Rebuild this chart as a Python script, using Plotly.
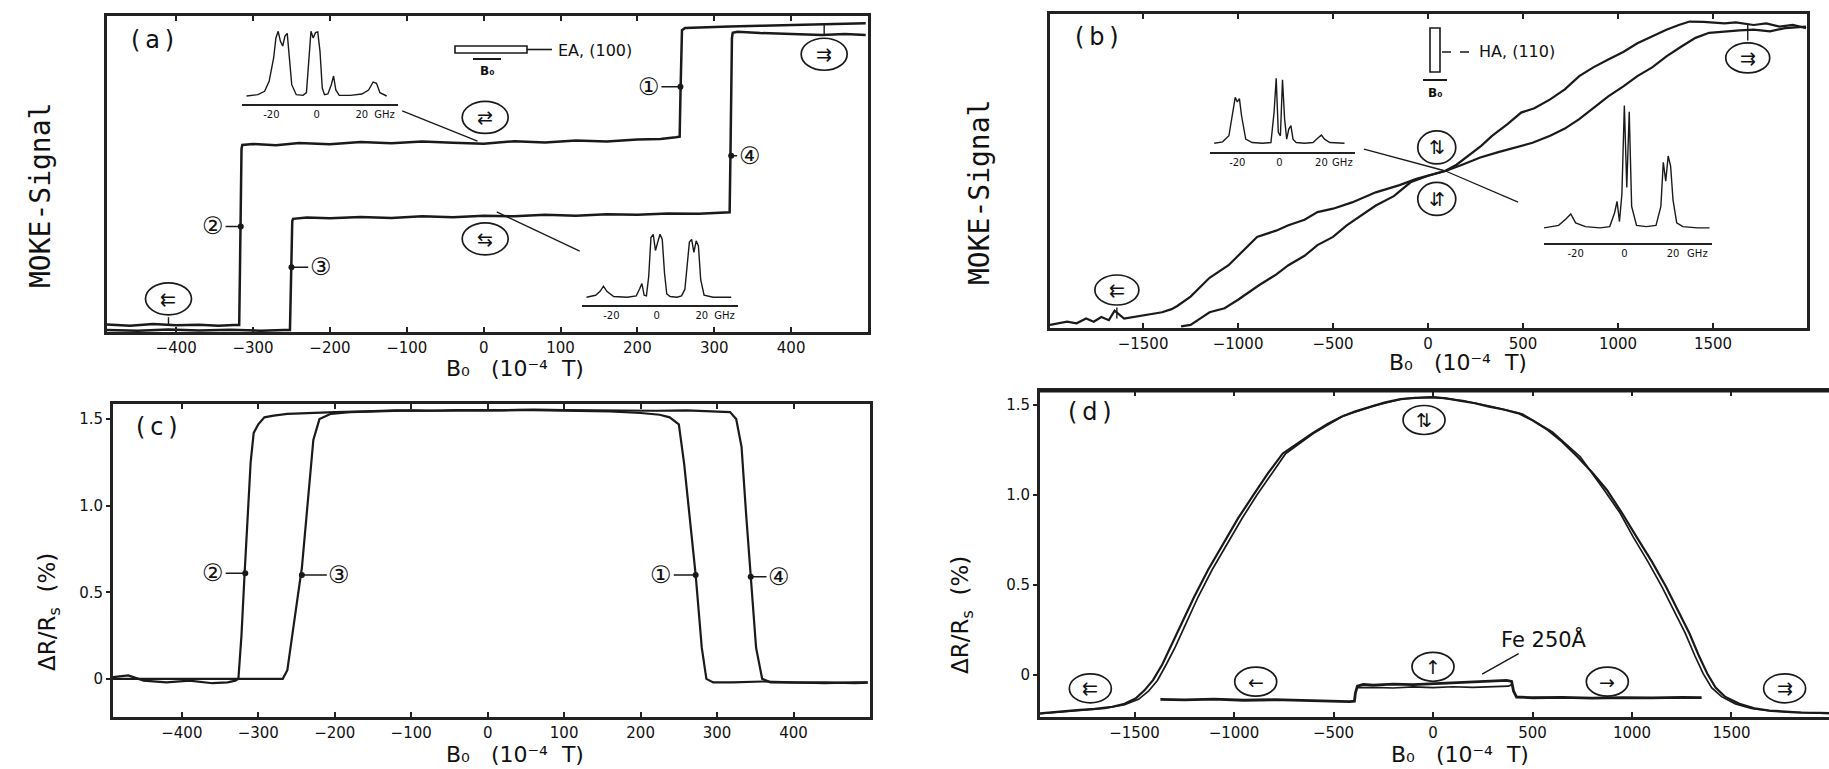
import plotly.graph_objects as go

W, H = 1829, 769

INK = "#1a1a1a"
FRAME = "#222222"
FONT = "DejaVu Sans, Noto Sans CJK JP, sans-serif"
MONO = "DejaVu Sans Mono, monospace"


def px_x(p):
    return p / W


def px_y(p):
    return 1 - p / H


# ---------------- (a) MOKE loop, field along the easy axis ----------------
a_branch1_field = [-490, -460, -430, -400, -370, -345, -325, -318, -317, -316,
                   -315, -314, -300, -270, -240, -200, -160, -120, -80, -40,
                   0, 40, 80, 120, 160, 200, 230, 250, 255, 256,
                   257, 258, 262, 280, 320, 360, 400, 440, 480, 497]
a_branch1_signal = [0.024, 0.02, 0.025, 0.021, 0.023, 0.02, 0.022, 0.022, 0.2, 0.45,
                    0.58, 0.592, 0.595, 0.591, 0.598, 0.594, 0.601, 0.597, 0.603, 0.599,
                    0.596, 0.604, 0.6, 0.606, 0.603, 0.609, 0.611, 0.616, 0.618, 0.75,
                    0.9, 0.955, 0.962, 0.964, 0.967, 0.969, 0.972, 0.973, 0.976, 0.977]
a_branch2_field = [-490, -450, -410, -370, -330, -290, -260, -252, -251, -250,
                   -249, -248, -230, -200, -160, -120, -80, -40, 0, 40,
                   80, 120, 160, 200, 240, 280, 310, 320, 321, 322,
                   323, 324, 330, 360, 400, 440, 470, 497]
a_branch2_signal = [0.006, 0.004, 0.008, 0.005, 0.007, 0.004, 0.006, 0.006, 0.12, 0.28,
                    0.35, 0.358, 0.362, 0.36, 0.364, 0.361, 0.366, 0.363, 0.368, 0.366,
                    0.371, 0.368, 0.373, 0.371, 0.375, 0.374, 0.377, 0.379, 0.55, 0.8,
                    0.93, 0.947, 0.95, 0.946, 0.944, 0.94, 0.943, 0.94]

# ---------------- (b) MOKE loop, field along the hard axis ----------------
b_branch1_field = [-1990, -1900, -1850, -1800, -1760, -1720, -1680, -1650, -1600, -1550,
                   -1500, -1450, -1400, -1350, -1320, -1250, -1150, -1050, -1000, -900,
                   -800, -735, -650, -582, -500, -400, -275, -150, -61, 0,
                   92, 150, 214, 280, 337, 420, 490, 560, 643, 720,
                   796, 870, 949, 1030, 1102, 1180, 1255, 1320, 1377, 1450,
                   1500, 1561, 1620, 1714, 1780, 1850, 1920, 1990]
b_branch1_signal = [0.01, 0.02, 0.015, 0.03, 0.02, 0.035, 0.025, 0.055, 0.03, 0.035,
                    0.04, 0.045, 0.05, 0.06, 0.07, 0.1, 0.16, 0.2, 0.23, 0.29,
                    0.31, 0.327, 0.345, 0.369, 0.38, 0.4, 0.432, 0.455, 0.475, 0.485,
                    0.501, 0.52, 0.549, 0.58, 0.612, 0.65, 0.686, 0.7, 0.728, 0.76,
                    0.802, 0.83, 0.855, 0.88, 0.907, 0.93, 0.95, 0.965, 0.976, 0.975,
                    0.972, 0.97, 0.973, 0.965, 0.97, 0.96, 0.965, 0.955]
b_branch2_field = [-1300, -1250, -1200, -1150, -1071, -1000, -888, -800, -735, -650,
                   -582, -500, -428, -350, -275, -180, -92, 0, 92, 180,
                   275, 370, 459, 550, 643, 720, 796, 870, 949, 1030,
                   1102, 1180, 1255, 1330, 1408, 1480, 1561, 1640, 1714, 1800,
                   1880, 1959, 1990]
b_branch2_signal = [0.005, 0.01, 0.03, 0.05, 0.063, 0.09, 0.137, 0.17, 0.2, 0.23,
                    0.264, 0.29, 0.327, 0.36, 0.39, 0.42, 0.464, 0.485, 0.5, 0.52,
                    0.543, 0.56, 0.575, 0.59, 0.612, 0.635, 0.665, 0.7, 0.738, 0.77,
                    0.802, 0.83, 0.865, 0.895, 0.924, 0.94, 0.945, 0.948, 0.95, 0.945,
                    0.955, 0.96, 0.96]

# ---------------- (c) magnetoresistance, easy axis ----------------
c_branch1_field = [-490, -470, -450, -420, -390, -360, -340, -330, -326, -322,
                   -318, -314, -310, -306, -300, -292, -280, -262, -240, -200,
                   -160, -120, -80, -40, 0, 40, 80, 120, 160, 200,
                   225, 238, 250, 257, 265, 272, 280, 286, 295, 320,
                   360, 400, 440, 480, 497]
c_branch1_mr = [0.01, 0.02, -0.01, -0.02, -0.01, -0.025, -0.02, -0.01, 0.0, 0.25,
                0.6, 0.95, 1.25, 1.42, 1.47, 1.51, 1.52, 1.53, 1.535, 1.54,
                1.545, 1.55, 1.548, 1.552, 1.55, 1.553, 1.55, 1.548, 1.545, 1.535,
                1.525, 1.51, 1.47, 1.24, 0.91, 0.6, 0.18, 0.0, -0.02, -0.02,
                -0.015, -0.02, -0.025, -0.02, -0.02]
c_branch2_field = [-490, -440, -390, -340, -300, -268, -262, -258, -254, -250,
                   -246, -243, -239, -235, -228, -220, -205, -180, -140, -100,
                   -60, -20, 20, 60, 100, 140, 180, 220, 260, 300,
                   317, 325, 332, 338, 344, 351, 359, 370, 400, 440,
                   480, 497]
c_branch2_mr = [0.0, 0.0, 0.0, 0.0, 0.0, 0.0, 0.05, 0.18, 0.32, 0.45,
                0.55, 0.64, 0.85, 1.05, 1.38, 1.5, 1.53, 1.54, 1.545, 1.55,
                1.548, 1.552, 1.55, 1.555, 1.552, 1.55, 1.552, 1.548, 1.55, 1.545,
                1.54, 1.5, 1.34, 0.95, 0.59, 0.18, 0.0, -0.02, -0.022, -0.02,
                -0.025, -0.022]

# ---------------- (d) magnetoresistance, hard axis, plus single Fe film ----------------
d_sweep1_field = [-1975, -1900, -1790, -1700, -1612, -1550, -1495, -1450, -1407, -1360,
                  -1318, -1260, -1200, -1130, -1052, -980, -903, -830, -755, -680,
                  -607, -530, -460, -390, -311, -240, -163, -90, -15, 60,
                  133, 210, 281, 355, 430, 500, 578, 650, 726, 800,
                  874, 950, 1022, 1100, 1171, 1230, 1289, 1335, 1378, 1420,
                  1467, 1540, 1615, 1690, 1764, 1850, 1941, 1990]
d_sweep1_mr = [-0.213, -0.205, -0.195, -0.188, -0.176, -0.16, -0.13, -0.085, -0.028, 0.06,
               0.157, 0.29, 0.435, 0.585, 0.731, 0.87, 1.0, 1.12, 1.231, 1.29,
               1.343, 1.395, 1.435, 1.465, 1.491, 1.515, 1.533, 1.54, 1.543, 1.538,
               1.524, 1.51, 1.491, 1.475, 1.454, 1.415, 1.361, 1.295, 1.213, 1.125,
               1.028, 0.9, 0.769, 0.63, 0.491, 0.36, 0.231, 0.11, 0.009, -0.07,
               -0.12, -0.16, -0.185, -0.197, -0.204, -0.208, -0.21, -0.212]
d_sweep2_field = [-1975, -1800, -1650, -1550, -1480, -1430, -1385, -1340, -1295, -1240,
                  -1180, -1110, -1035, -960, -885, -740, -600, -450, -300, -150,
                  0, 150, 300, 450, 600, 740, 860, 940, 1005, 1080,
                  1150, 1210, 1268, 1315, 1357, 1400, 1450, 1520, 1600, 1700,
                  1800, 1990]
d_sweep2_mr = [-0.215, -0.2, -0.185, -0.165, -0.135, -0.09, -0.03, 0.06, 0.157, 0.29,
               0.435, 0.585, 0.731, 0.87, 1.0, 1.231, 1.343, 1.44, 1.495, 1.535,
               1.545, 1.525, 1.49, 1.45, 1.35, 1.213, 1.028, 0.9, 0.769, 0.63,
               0.491, 0.36, 0.231, 0.11, 0.009, -0.07, -0.12, -0.16, -0.185, -0.2,
               -0.207, -0.213]
fe_sweep1_field = [-1370, -1250, -1100, -950, -800, -650, -500, -420, -395, -390,
                   -380, -350, -300, -200, -100, 0, 100, 200, 300, 370,
                   395, 405, 420, 500, 650, 800, 950, 1100, 1250, 1350]
fe_sweep1_mr = [-0.135, -0.138, -0.134, -0.14, -0.137, -0.142, -0.144, -0.148, -0.145, -0.1,
                -0.062, -0.052, -0.056, -0.05, -0.053, -0.048, -0.046, -0.042, -0.036, -0.03,
                -0.035, -0.09, -0.122, -0.126, -0.124, -0.128, -0.125, -0.127, -0.124, -0.125]
fe_sweep2_field = [-380, -300, -200, -100, 0, 100, 200, 300, 380, 400]
fe_sweep2_mr = [-0.07, -0.068, -0.072, -0.066, -0.07, -0.065, -0.068, -0.064, -0.062, -0.05]

# ---------------- light-scattering spectra (insets) ----------------
spec_a1_freq = [-31, -26, -23, -21, -19, -18, -17, -16, -15, -14,
                -13, -12, -11, -9, -6, -4.5, -3.5, -2.5, -1.5, -0.5,
                0.5, 1.5, 2.5, 3.5, 5, 6.5, 7.5, 8.5, 10, 15,
                20, 23, 25, 26.5, 28, 31]
spec_a1_int = [0.03, 0.05, 0.1, 0.25, 0.6, 0.9, 1.0, 0.85, 0.78, 0.93,
               0.97, 0.6, 0.2, 0.05, 0.04, 0.08, 0.6, 1.0, 0.9, 0.98,
               0.99, 0.7, 0.15, 0.05, 0.06, 0.2, 0.33, 0.12, 0.04, 0.04,
               0.06, 0.12, 0.24, 0.22, 0.08, 0.03]
spec_a2_freq = [-31, -27, -25, -23.5, -22, -19, -13, -9, -7.5, -6.5,
                -5.5, -4.5, -3.5, -2.5, -1.5, -0.5, 0.5, 1.5, 2.5, 3.5,
                4.5, 6, 9, 11, 12.5, 13.5, 14.5, 15.5, 16.5, 17.5,
                18.5, 19.5, 21, 25, 33]
spec_a2_int = [0.03, 0.06, 0.12, 0.2, 0.12, 0.04, 0.03, 0.05, 0.16, 0.24,
               0.06, 0.05, 0.35, 0.95, 1.0, 0.75, 0.88, 1.0, 0.92, 0.4,
               0.08, 0.04, 0.03, 0.05, 0.15, 0.5, 0.88, 0.92, 0.72, 0.9,
               0.82, 0.3, 0.06, 0.03, 0.03]
spec_b1_freq = [-31, -27, -24, -22, -21, -20, -19, -18, -16, -13,
                -8, -4, -2.5, -1.5, -0.5, 0.5, 1.5, 2.5, 3.5, 4.5,
                5.5, 6.5, 8, 12, 16, 18.5, 20, 21.5, 24, 31]
spec_b1_int = [0.04, 0.06, 0.15, 0.5, 0.72, 0.65, 0.7, 0.45, 0.1, 0.05,
               0.04, 0.05, 0.5, 1.0, 0.2, 0.15, 0.98, 0.4, 0.1, 0.25,
               0.3, 0.1, 0.05, 0.04, 0.05, 0.12, 0.16, 0.1, 0.05, 0.04]
spec_b2_freq = [-33, -27, -24, -22, -20, -16, -10, -6, -4, -3,
                -2, -1, 0, 1, 2, 3, 5, 9, 13, 15,
                16, 17, 18, 19, 20, 21.5, 24, 30, 35]
spec_b2_int = [0.03, 0.05, 0.1, 0.14, 0.07, 0.04, 0.03, 0.04, 0.15, 0.24,
               0.08, 0.3, 1.0, 0.35, 0.95, 0.2, 0.05, 0.04, 0.05, 0.2,
               0.55, 0.4, 0.6, 0.52, 0.25, 0.07, 0.04, 0.03, 0.03]

# tick labels
field_ticks_easy = [-400, -300, -200, -100, 0, 100, 200, 300, 400]
field_ticks_hard = [-1500, -1000, -500, 0, 500, 1000, 1500]
mr_ticks = [0, 0.5, 1.0, 1.5]
mr_tick_text = ["0", "0.5", "1.0", "1.5"]
spec_ticks = [-20, 0, 20, 30]
spec_tick_text = ["-20", "0", "20", "GHz"]

# panel frames in pixel columns/rows: (left, right, top, bottom)
frames = {
    "a": (107, 868, 16, 332),
    "b": (1050, 1807, 14, 328),
    "c": (113, 870, 404, 717),
    "d": (1040, 1829, 391, 717),
}
inset_boxes = {
    "a1": (242, 398, 30, 104),
    "a2": (582, 738, 233, 305),
    "b1": (1210, 1355, 77, 152),
    "b2": (1544, 1712, 103, 243),
}

fig = go.Figure()


def curve(x, y, xa, ya, width=2.5):
    fig.add_trace(go.Scatter(x=x, y=y, mode="lines", xaxis=xa, yaxis=ya,
                             line=dict(color=INK, width=width),
                             showlegend=False, hoverinfo="skip"))


curve(a_branch1_field, a_branch1_signal, "x", "y")
curve(a_branch2_field, a_branch2_signal, "x", "y")
curve(b_branch1_field, b_branch1_signal, "x2", "y2", 2.2)
curve(b_branch2_field, b_branch2_signal, "x2", "y2", 2.2)
curve(c_branch1_field, c_branch1_mr, "x3", "y3", 2.2)
curve(c_branch2_field, c_branch2_mr, "x3", "y3", 2.2)
curve(d_sweep1_field, d_sweep1_mr, "x4", "y4", 2.2)
curve(d_sweep2_field, d_sweep2_mr, "x4", "y4", 1.7)
curve(fe_sweep1_field, fe_sweep1_mr, "x4", "y4", 2.8)
curve(fe_sweep2_field, fe_sweep2_mr, "x4", "y4", 1.7)
curve(spec_a1_freq, spec_a1_int, "x5", "y5", 1.4)
curve(spec_a2_freq, spec_a2_int, "x6", "y6", 1.4)
curve(spec_b1_freq, spec_b1_int, "x7", "y7", 1.4)
curve(spec_b2_freq, spec_b2_int, "x8", "y8", 1.4)

tickfont = dict(family=FONT, size=15, color="#111")


def x_axis(key, rng, tickvals, anchor, mirror="ticks"):
    l, r, t, b = frames[key]
    return dict(domain=[px_x(l), px_x(r)], range=rng, anchor=anchor,
                tickvals=tickvals, ticks="inside", ticklen=5, tickwidth=1.5,
                tickcolor=FRAME, showline=True, linecolor=FRAME, linewidth=2.8,
                mirror=mirror, showgrid=False, zeroline=False, tickfont=tickfont)


def y_axis(key, rng, anchor, tickvals=None, ticktext=None, mirror=True):
    l, r, t, b = frames[key]
    ax = dict(domain=[px_y(b), px_y(t)], range=rng, anchor=anchor,
              showline=True, linecolor=FRAME, linewidth=2.8, mirror=mirror,
              showgrid=False, zeroline=False, tickfont=tickfont)
    if tickvals is None:
        ax.update(showticklabels=False, ticks="")
    else:
        ax.update(tickvals=tickvals, ticktext=ticktext, ticks="outside",
                  ticklen=4, tickwidth=1.5, tickcolor=FRAME)
    return ax


def inset_axes(key, anchor):
    l, r, t, b = inset_boxes[key]
    xa = dict(domain=[px_x(l), px_x(r)], range=[-33, 36], anchor=anchor,
              tickvals=spec_ticks, ticktext=spec_tick_text, ticks="",
              showline=True, linecolor=FRAME, linewidth=1.7, showgrid=False,
              zeroline=False, tickfont=dict(family=FONT, size=10, color="#111"))
    ya = dict(domain=[px_y(b), px_y(t)], range=[-0.09, 1.02], visible=False)
    return xa, ya


layout = dict(
    width=W, height=H, autosize=False,
    margin=dict(l=0, r=0, t=0, b=0),
    paper_bgcolor="white", plot_bgcolor="rgba(0,0,0,0)",
    xaxis=x_axis("a", [-490, 500], field_ticks_easy, "y"),
    yaxis=y_axis("a", [0, 1.0], "x"),
    xaxis2=x_axis("b", [-1990, 1995], field_ticks_hard, "y2"),
    yaxis2=y_axis("b", [0, 1.0], "x2"),
    xaxis3=x_axis("c", [-490, 500], field_ticks_easy, "y3"),
    yaxis3=y_axis("c", [-0.22, 1.587], "x3", mr_ticks, mr_tick_text),
    xaxis4=x_axis("d", [-1975, 1990], field_ticks_hard, "y4"),
    yaxis4=y_axis("d", [-0.233, 1.578], "x4", mr_ticks, mr_tick_text, mirror=False),
)
for n, key in zip([5, 6, 7, 8], ["a1", "a2", "b1", "b2"]):
    xa, ya = inset_axes(key, "y%d" % n)
    layout["xaxis%d" % n] = xa
    layout["yaxis%d" % n] = ya
fig.update_layout(**layout)

annotations = []
shapes = []
CENTER = dict(xanchor="center", yanchor="middle")

# panel letters
panel_letters = [("(a)", "x", "y", 0.06, 0.924), ("(b)", "x2", "y2", 0.062, 0.927),
                 ("(c)", "x3", "y3", 0.058, 0.927), ("(d)", "x4", "y4", 0.063, 0.936)]
for txt, xa, ya, fxd, fyd in panel_letters:
    annotations.append(dict(text=txt.replace("(", "(\u2009").replace(")", "\u2009)"),
                            xref=xa + " domain", yref=ya + " domain", x=fxd, y=fyd,
                            showarrow=False, font=dict(family=FONT, size=24, color="#111"),
                            **CENTER))

# axis titles
field_title = "B₀   (10⁻⁴  T)"
for cx, cy in [(515, 368), (1458, 362), (515, 754), (1460, 754)]:
    annotations.append(dict(text=field_title, xref="paper", yref="paper",
                            x=px_x(cx), y=px_y(cy), showarrow=False,
                            font=dict(family=FONT, size=22, color="#111"), **CENTER))
for cx, cy in [(40, 196), (979, 193)]:
    annotations.append(dict(text="MOKE-Signal", xref="paper", yref="paper",
                            x=px_x(cx), y=px_y(cy), textangle=-90, showarrow=False,
                            font=dict(family=MONO, size=28, color="#111"), **CENTER))
for cx, cy in [(49, 612), (962, 615)]:
    annotations.append(dict(text="ΔR/R<sub>s</sub>  (%)", xref="paper", yref="paper",
                            x=px_x(cx), y=px_y(cy), textangle=-90, showarrow=False,
                            font=dict(family=FONT, size=23, color="#111"), **CENTER))

# numbered branch labels: (axis, point on curve, label position, text)
branch_labels = [
    ("x", "y", 256, 0.776, 215, 0.776, "①"),
    ("x", "y", -316, 0.334, -352, 0.334, "②"),
    ("x", "y", -250, 0.205, -212, 0.205, "③"),
    ("x", "y", 322, 0.558, 346, 0.558, "④"),
    ("x3", "y3", -317, 0.61, -359, 0.61, "②"),
    ("x3", "y3", -243, 0.6, -194, 0.6, "③"),
    ("x3", "y3", 272, 0.6, 227, 0.6, "①"),
    ("x3", "y3", 344, 0.59, 381, 0.59, "④"),
]
dot_x = {"x": [], "x3": []}
dot_y = {"x": [], "x3": []}
for xa, ya, px, py, lx, ly, txt in branch_labels:
    annotations.append(dict(text=txt, xref=xa, yref=ya, x=px, y=py, ax=lx, ay=ly,
                            axref=xa, ayref=ya, showarrow=True, arrowhead=0,
                            arrowwidth=1.5, arrowcolor=INK, standoff=0,
                            font=dict(family=FONT, size=24, color="#111")))
    dot_x[xa].append(px)
    dot_y[xa].append(py)
for xa, ya in [("x", "y"), ("x3", "y3")]:
    fig.add_trace(go.Scatter(x=dot_x[xa], y=dot_y[xa], mode="markers", xaxis=xa,
                             yaxis=ya, marker=dict(color=INK, size=6),
                             showlegend=False, hoverinfo="skip"))

# magnetisation-state symbols: (axis, centre, glyph, width, height, stem end or None)
state_icons = [
    ("x", "y", -410, 0.105, "⇇", 46, 32, (-410, 0.023)),
    ("x", "y", 443, 0.879, "⇉", 46, 32, (443, 0.972)),
    ("x", "y", 2, 0.679, "⇄", 46, 32, None),
    ("x", "y", 2, 0.295, "⇆", 46, 32, None),
    ("x2", "y2", -1638, 0.121, "⇇", 44, 30, (-1638, 0.03)),
    ("x2", "y2", 1683, 0.86, "⇉", 44, 30, (1683, 0.966)),
    ("x2", "y2", 46, 0.575, "⇅", 38, 33, None),
    ("x2", "y2", 46, 0.411, "⇵", 38, 33, None),
    ("x4", "y4", -1722, -0.074, "⇇", 42, 29, None),
    ("x4", "y4", -891, -0.037, "←", 42, 29, None),
    ("x4", "y4", -45, 1.417, "⇅", 42, 29, None),
    ("x4", "y4", 0, 0.046, "↑", 42, 29, None),
    ("x4", "y4", 876, -0.037, "→", 42, 29, None),
    ("x4", "y4", 1767, -0.074, "⇉", 42, 29, None),
]
for xa, ya, cx, cy, glyph, w, h, stem in state_icons:
    shapes.append(dict(type="circle", xref=xa, yref=ya, xsizemode="pixel",
                       ysizemode="pixel", xanchor=cx, yanchor=cy,
                       x0=-w / 2, x1=w / 2, y0=-h / 2, y1=h / 2,
                       line=dict(color=INK, width=1.7)))
    ann = dict(text=glyph, xref=xa, yref=ya, x=cx, y=cy, showarrow=False,
               font=dict(family=FONT, size=19, color="#111"), **CENTER)
    if stem is not None:
        ann.update(x=stem[0], y=stem[1], ax=cx, ay=cy, axref=xa, ayref=ya,
                   showarrow=True, arrowhead=0, arrowwidth=1.4, arrowcolor=INK,
                   startstandoff=h / 2 - 10)
    annotations.append(ann)

# leader lines from curves to the spectra
leaders = [
    ("x", "y", -106, 0.70, -8, 0.604),
    ("x", "y", 17, 0.38, 125, 0.256),
    ("x2", "y2", -337, 0.57, 92, 0.5),
    ("x2", "y2", 92, 0.5, 474, 0.401),
]
for xa, ya, x0, y0, x1, y1 in leaders:
    shapes.append(dict(type="line", xref=xa, yref=ya, x0=x0, y0=y0, x1=x1, y1=y1,
                       line=dict(color=INK, width=1.3)))

# Fe reference film label
annotations.append(dict(text="Fe 250Å", xref="x4", yref="y4", x=238, y=0.0,
                        ax=560, ay=0.2, axref="x4", ayref="y4", showarrow=True,
                        arrowhead=0, arrowwidth=1.5, arrowcolor=INK, standoff=2,
                        font=dict(family=FONT, size=21, color="#111")))


# sample / field sketches (pixel positions)
def rect_px(x0, y0, x1, y1, width=1.6):
    shapes.append(dict(type="rect", xref="paper", yref="paper", x0=px_x(x0), x1=px_x(x1),
                       y0=px_y(y1), y1=px_y(y0), line=dict(color=INK, width=width)))


def seg_px(x0, y0, x1, y1, width=1.6, dash="solid"):
    shapes.append(dict(type="line", xref="paper", yref="paper", x0=px_x(x0), x1=px_x(x1),
                       y0=px_y(y0), y1=px_y(y1), line=dict(color=INK, width=width, dash=dash)))


def text_px(txt, x, y, size=12, anchor="left"):
    annotations.append(dict(text=txt, xref="paper", yref="paper", x=px_x(x), y=px_y(y),
                            xanchor=anchor, yanchor="middle", showarrow=False,
                            font=dict(family=FONT, size=size, color="#111")))


rect_px(455, 46, 527, 53)
seg_px(527, 49.5, 552, 49.5)
text_px("EA, (100)", 556, 50, 16)
seg_px(473, 59, 501, 59, 2)
text_px("<b>B₀</b>", 487, 71, 12, "center")

rect_px(1430, 28, 1440, 72)
seg_px(1442, 52, 1474, 52, 1.4, "dash")
text_px("HA, (110)", 1477, 52, 16)
seg_px(1423, 80, 1447, 80, 2)
text_px("<b>B₀</b>", 1435, 93, 12, "center")

# top edge of (d)
l, r, t, b = frames["d"]
seg_px(l, t, r, t, 2.8)

fig.update_layout(annotations=annotations, shapes=shapes)
fig.write_html("out.html")
